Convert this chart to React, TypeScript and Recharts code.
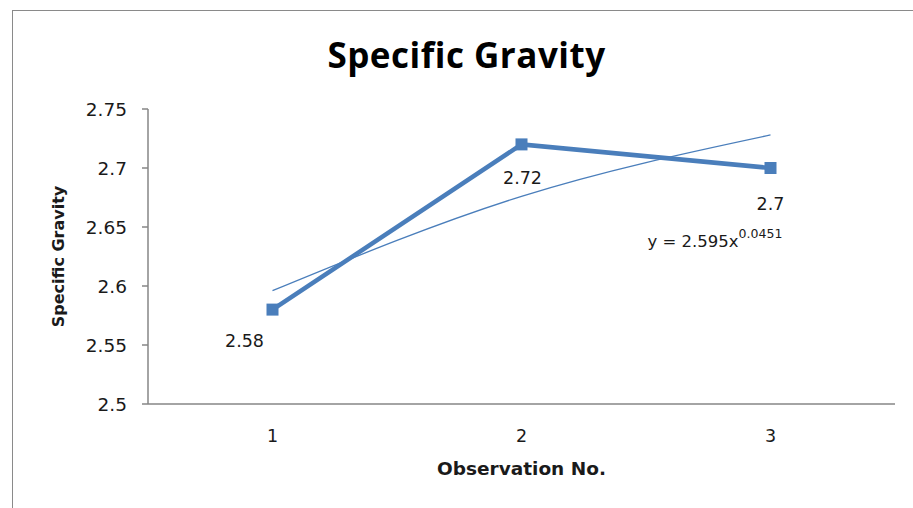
import React from "react";
import { LineChart, Line, XAxis, YAxis } from "recharts";

const observations = [1, 2, 3];
const specificGravity = [2.58, 2.72, 2.7];
const trendValues = [2.596, 2.676, 2.728];
const yTicks = [2.5, 2.55, 2.6, 2.65, 2.7, 2.75];
const xTicks = [1, 2, 3];
const xDividers = [0.5, 1.5, 2.5, 3.5];
const chartTitle = "Specific Gravity";
const xTitle = "Observation No.";
const yTitle = "Specific Gravity";
const equationMain = "y = 2.595x";
const equationExp = "0.0451";

const data = observations.map((x, i) => ({
  x,
  sg: specificGravity[i],
  trend: trendValues[i],
}));

const BLUE = "#4A7EBB";
const AXIS = "#868686";
const FONT = "'DejaVu Sans', sans-serif";
const TFONT = "'Open Sans', sans-serif";

const labelOffsets = [
  { dx: -28, dy: 37 },
  { dx: 1, dy: 40 },
  { dx: 0, dy: 42 },
];

const ValueLabel = (props: any) => {
  const { x, y, index, value } = props;
  const o = labelOffsets[index] || { dx: 0, dy: 30 };
  return (
    <text
      x={x + o.dx}
      y={y + o.dy}
      textAnchor="middle"
      fontFamily={FONT}
      fontSize={17.5}
      fill="#1a1a1a"
    >
      {value}
    </text>
  );
};

const EquationLabel = (props: any) => {
  const { x, y, index } = props;
  if (index !== trendValues.length - 1) return null;
  return (
    <text x={x - 123} y={y + 112} fontFamily={FONT} fontSize={16.5} fill="#1a1a1a">
      {equationMain}
      <tspan fontSize={12.5} dy={-9}>
        {equationExp}
      </tspan>
    </text>
  );
};

const Square = (props: any) => {
  const { cx, cy } = props;
  if (cx == null || cy == null) return null;
  return <rect x={cx - 6} y={cy - 6} width={12} height={12} fill={BLUE} />;
};

export default function App() {
  return (
    <div
      style={{
        position: "absolute",
        left: 0,
        top: 0,
        width: 913,
        height: 508,
        background: "#fff",
        overflow: "hidden",
      }}
    >
      <div
        style={{
          position: "absolute",
          left: 12,
          top: 10,
          width: 920,
          height: 520,
          borderLeft: "1.5px solid #8a8a8a",
          borderTop: "1.5px solid #8a8a8a",
        }}
      />
      <div
        style={{
          position: "absolute",
          left: 0,
          width: 933,
          top: 31,
          lineHeight: "48px",
          textAlign: "center",
          fontFamily: TFONT,
          fontWeight: 700,
          fontSize: 35,
          letterSpacing: 0.5,
          color: "#000",
        }}
      >
        {chartTitle}
      </div>
      <div style={{ position: "absolute", left: 0, top: 0 }}>
        <LineChart
          width={913}
          height={508}
          data={data}
          margin={{ top: 109, right: 18, bottom: 74, left: 0 }}
        >
          <XAxis
            xAxisId="main"
            dataKey="x"
            type="number"
            domain={[0.5, 3.5]}
            ticks={xTicks}
            tickLine={false}
            axisLine={{ stroke: AXIS, strokeWidth: 1.5 }}
            height={30}
            tick={{ fontFamily: FONT, fontSize: 17.5, fill: "#1a1a1a" }}
            tickMargin={20}
            label={{
              value: xTitle,
              position: "insideBottom",
              offset: -41,
              style: { fontFamily: FONT, fontSize: 18.5, fontWeight: 700, fill: "#1a1a1a" },
            }}
          />
          <XAxis
            xAxisId="div"
            dataKey="x"
            type="number"
            domain={[0.5, 3.5]}
            ticks={xDividers}
            tick={false}
            axisLine={false}
            tickLine={{ stroke: AXIS, strokeWidth: 1.5 }}
            tickSize={6}
            height={0}
          />
          <YAxis
            type="number"
            domain={[2.5, 2.75]}
            ticks={yTicks}
            width={148}
            axisLine={{ stroke: AXIS, strokeWidth: 1.5 }}
            tickLine={{ stroke: AXIS, strokeWidth: 1.5 }}
            tickSize={6}
            tickMargin={15}
            tick={{ fontFamily: FONT, fontSize: 18.5, fill: "#1a1a1a" }}
            label={{
              value: yTitle,
              angle: -90,
              position: "insideLeft",
              offset: 58,
              style: { textAnchor: "middle", fontFamily: FONT, fontSize: 16, fontWeight: 700, fill: "#1a1a1a" },
            }}
          />
          <Line
            xAxisId="main"
            dataKey="trend"
            type="monotone"
            stroke={BLUE}
            strokeWidth={1.3}
            dot={false}
            activeDot={false}
            isAnimationActive={false}
            label={<EquationLabel />}
          />
          <Line
            xAxisId="main"
            dataKey="sg"
            type="linear"
            stroke={BLUE}
            strokeWidth={4.5}
            dot={<Square />}
            activeDot={false}
            isAnimationActive={false}
            label={<ValueLabel />}
          />
        </LineChart>
      </div>
    </div>
  );
}
